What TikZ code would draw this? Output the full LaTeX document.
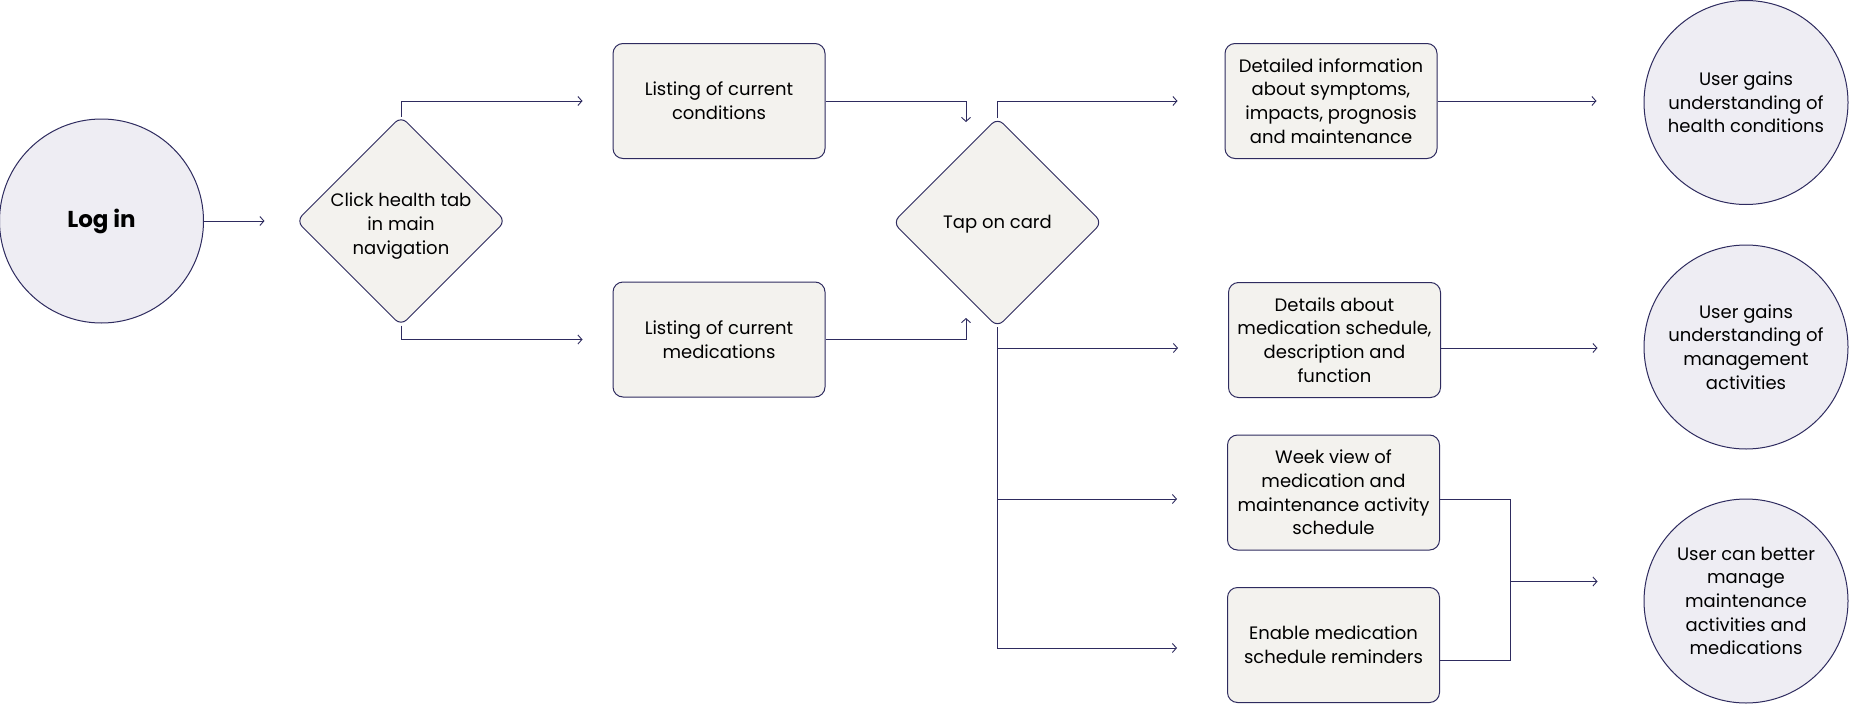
\documentclass[tikz,border=0pt]{standalone}
\usepackage{fontspec}
\setmainfont{Poppins}
\usetikzlibrary{shapes.geometric,arrows.meta,calc}
\pgfdeclarelayer{bg}
\pgfsetlayers{bg,main}
\definecolor{ln}{HTML}{2E2B5F}
\definecolor{boxfill}{HTML}{F3F2EE}
\definecolor{circfill}{HTML}{EEEDF3}
\tikzset{
  conn/.style={draw=ln, line width=0.9pt},
  arr/.style={conn, -{Straight Barb[length=4pt,width=9pt,line width=0.9pt]}},
  card/.style={draw=ln, line width=1pt, fill=boxfill, rounded corners=10pt,
    minimum width=212pt, minimum height=115pt, inner sep=0pt, align=center,
    font=\fontsize{18}{23.7}\selectfont},
  dia/.style={draw=ln, line width=1pt, fill=boxfill, shape=diamond,
    minimum width=209pt, minimum height=209pt, inner sep=0pt, outer sep=0pt, rounded corners=8pt},
  dtxt/.style={align=center, inner sep=0pt, font=\fontsize{18}{23.7}\selectfont},
  circ/.style={draw=ln, line width=1pt, fill=circfill, shape=circle,
    minimum size=204pt, inner sep=0pt, align=center,
    font=\fontsize{18}{23.7}\selectfont},
}
\begin{document}
\begin{tikzpicture}[x=1pt,y=-1pt]
\useasboundingbox (0,0) rectangle (1849,704);
% nodes
\node[circ] (login) at (101.5,221) {\fontsize{23}{28}\selectfont\bfseries Log in};
\node[dia] (d1) at (401,221) {};
\node[dtxt] (d1t) at ([yshift=-5pt]d1.center) {Click health tab\\in main\\navigation};
\node[card] (b1) at (719,101) {Listing of current\\conditions};
\node[card] (b2) at (719,339.5) {Listing of current\\medications};
\node[dia] (d2) at (997.5,222.5) {};
\node[dtxt] (d2t) at ([yshift=-2pt]d2.center) {Tap on card};
\node[card] (b3) at (1331,101) {Detailed information\\about symptoms,\\impacts, prognosis\\and maintenance};
\node[card] (b4) at (1334.5,340) {Details about\\medication schedule,\\description and\\function};
\node[card] (b5) at (1333.5,492.5) {Week view of\\medication and\\maintenance activity\\schedule};
\node[card] (b6) at (1333.5,645) {Enable medication\\schedule reminders};
\node[circ] (c1) at (1746,102.5) {User gains\\understanding of\\health conditions};
\node[circ] (c2) at (1746,347) {User gains\\understanding of\\management\\activities};
\node[circ] (c3) at (1746,601) {User can better\\manage\\maintenance\\activities and\\medications};
\coordinate (t1) at (966,122);
\coordinate (t2) at (966,318);
\coordinate (m) at (1510,581.5);
% connectors
\begin{pgfonlayer}{bg}
\draw[arr, shorten >=32pt] (login) -- (d1);
\draw[arr, shorten >=30pt] (d1.north) |- (b1.west);
\draw[arr, shorten >=30pt] (d1.south) |- (b2.west);
\draw[arr] (b1.east) -| (t1);
\draw[arr] (b2.east) -| (t2);
\draw[arr, shorten >=47pt] (d2.north) |- (b3.west);
\draw[arr, shorten >=50pt] (d2.south) |- ([yshift=-8pt]b4.west);
\draw[arr, shorten >=50pt] (d2.south) |- ([yshift=-6.5pt]b5.west);
\draw[arr, shorten >=50pt] (d2.south) |- ([yshift=-3pt]b6.west);
\draw[arr, shorten >=47pt] (b3.east) -- (b3.east -| c1.west);
\draw[arr, shorten >=46pt] ([yshift=-8pt]b4.east) -- ([yshift=-8pt]b4.east -| c2.west);
\draw[conn] ([yshift=-6.5pt]b5.east) -| (m);
\draw[conn] ([yshift=-15pt]b6.east) -| (m);
\draw[arr, shorten >=46pt] (m) -- (m -| c3.west);
\end{pgfonlayer}
\end{tikzpicture}
\end{document}
